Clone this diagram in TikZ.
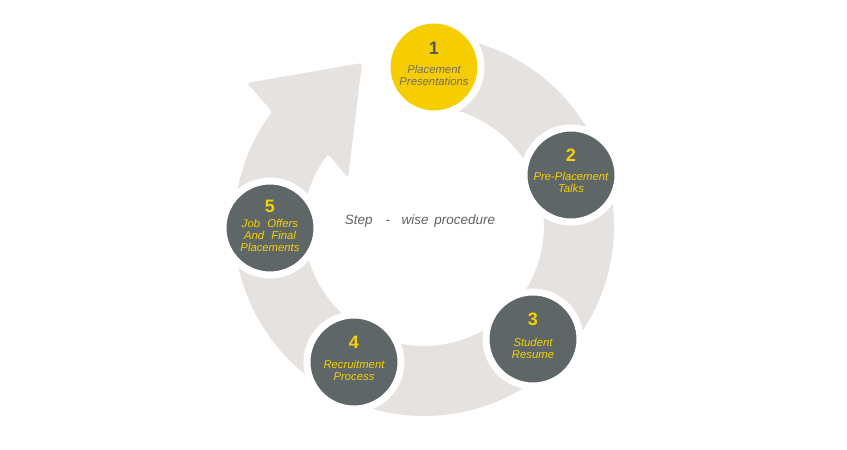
\documentclass[tikz,border=0pt]{standalone}
\usepackage{fontspec}
\setmainfont{Liberation Sans}
\usetikzlibrary{calc}
\definecolor{ringgray}{HTML}{E6E2DF}
\definecolor{yel}{HTML}{F6CD00}
\definecolor{darkcirc}{HTML}{5F6668}
\definecolor{textyel}{HTML}{F5D200}
\definecolor{numgray}{HTML}{55595C}
\definecolor{txtgray}{HTML}{6D6D6D}
\definecolor{stepgray}{HTML}{616161}
\begin{document}
\begin{tikzpicture}[x=1pt,y=-1pt,
  stepcirc/.style={circle, minimum size=94pt, inner sep=0pt, outer sep=0pt, draw=white, line width=7pt},
  num/.style={font=\bfseries\fontsize{18}{18}\selectfont, inner sep=0pt},
  lbl/.style={font=\itshape\fontsize{11.3}{12}\selectfont, align=center, inner sep=0pt}]
\useasboundingbox (0,0) rectangle (847,450);
\fill[white] (0,0) rectangle (847,450);
% ring arrow
\coordinate (rc) at (424,226);
\coordinate (w1) at (247,83);
\coordinate (tip) at (362,63);
\coordinate (w2) at (348,178);
\fill[ringgray, rounded corners=3pt] ($(rc)+(-85:190)$) arc[start angle=-85, end angle=217, radius=190]
  -- (w1) -- (tip) -- (w2) -- ($(rc)+(217:120)$) arc[start angle=217, end angle=-85, radius=120] -- cycle;
% circles
\node[stepcirc, fill=yel] (c1) at (434,67) {};
\node[stepcirc, fill=darkcirc] (c2) at (571,175) {};
\node[stepcirc, fill=darkcirc] (c3) at (533,339) {};
\node[stepcirc, fill=darkcirc] (c4) at (354,362) {};
\node[stepcirc, fill=darkcirc] (c5) at (270,228) {};
% numbers
\node[num, text=numgray] (n1) at ($(c1)+(0,-19)$) {1};
\node[num, text=textyel] (n2) at ($(c2)+(0,-20)$) {2};
\node[num, text=textyel] (n3) at ($(c3)+(0,-20)$) {3};
\node[num, text=textyel] (n4) at ($(c4)+(0,-20)$) {4};
\node[num, text=textyel] (n5) at ($(c5)+(0,-22)$) {5};
% labels
\node[lbl, text=txtgray] (t1) at ($(c1)+(0,8)$) {Placement\\Presentations};
\node[lbl, text=textyel] (t2) at ($(c2)+(0,7.5)$) {Pre-Placement\\Talks};
\node[lbl, text=textyel] (t3) at ($(c3)+(0,9.5)$) {Student\\Resume};
\node[lbl, text=textyel] (t4) at ($(c4)+(0,8)$) {Recruitment\\Process};
\node[lbl, text=textyel] (t5) at ($(c5)+(0,7.5)$) {Job\hspace{4pt} Offers\\And\hspace{4pt} Final\\Placements};
% title
\node[font=\itshape\fontsize{13.5}{16}\selectfont, text=stepgray, inner sep=0pt] (title) at (420,221) {Step\hspace{9pt} -\hspace{8pt} wise\hspace{2pt} procedure};
\end{tikzpicture}
\end{document}
